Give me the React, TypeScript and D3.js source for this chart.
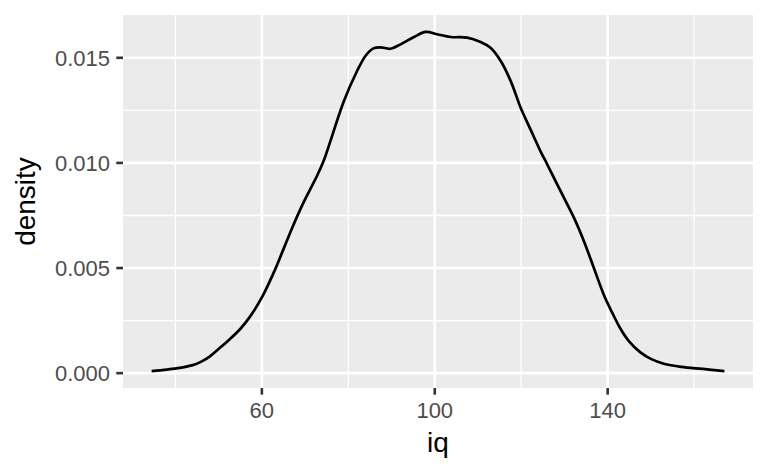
import React from 'react';
import * as d3 from 'd3';

// density estimate of iq
const iq = [34.5, 38, 41, 44, 46, 48, 50, 52.5, 55, 57.3, 60, 63, 65, 67.3, 69.6, 72.8, 74.3, 75.8, 78.9, 82, 84, 85.8, 87.5, 89.7, 92.1, 95.2, 97.9, 100.6, 103.7, 107.5, 110.6, 112.9, 115.3, 117.6, 119.9, 122.2, 124.5, 126.1, 129.2, 132.3, 134.6, 136.9, 139.2, 141, 143, 145, 147.5, 150, 153, 157, 162, 167];
const density = [0.0001, 0.00017, 0.00025, 0.00038, 0.00055, 0.0008, 0.00115, 0.0016, 0.0021, 0.0027, 0.0036, 0.0049, 0.0059, 0.00705, 0.0081, 0.0094, 0.0101, 0.011, 0.0129, 0.01436, 0.0151, 0.01545, 0.0155, 0.01543, 0.01564, 0.01599, 0.01623, 0.01612, 0.01599, 0.01596, 0.01575, 0.01548, 0.01484, 0.01388, 0.01261, 0.01157, 0.01054, 0.0099, 0.00862, 0.00735, 0.00623, 0.00495, 0.00368, 0.0029, 0.0021, 0.0015, 0.001, 0.00068, 0.00045, 0.0003, 0.0002, 0.0001];

const xTicks = [60, 100, 140];
const xMinor = [40, 80, 120, 160];
const yTicks = [0, 0.005, 0.01, 0.015];
const yMinor = [0.0025, 0.0075, 0.0125];

const W = 768;
const H = 474;
const margin = { top: 15, right: 15, bottom: 86, left: 123 };

export default function App() {
  const pw = W - margin.left - margin.right;
  const ph = H - margin.top - margin.bottom;

  const [x0, x1] = d3.extent(iq) as [number, number];
  const xPad = (x1 - x0) * 0.05;
  const x = d3.scaleLinear().domain([x0 - xPad, x1 + xPad]).range([0, pw]);

  const [y0, y1] = d3.extent(density) as [number, number];
  const yPad = (y1 - y0) * 0.05;
  const y = d3.scaleLinear().domain([y0 - yPad, y1 + yPad]).range([ph, 0]);

  const pts = iq.map((v, i) => [v, density[i]] as [number, number]);
  const line = d3.line<[number, number]>()
    .x(d => x(d[0]))
    .y(d => y(d[1]))
    .curve(d3.curveCatmullRom.alpha(0.5));

  const font = "'Liberation Sans', Arial, sans-serif";

  return (
    <svg width={W} height={H} style={{ position: 'absolute', left: 0, top: 0 }} fontFamily={font}>
      <rect width={W} height={H} fill="#fff" />
      <g transform={`translate(${margin.left},${margin.top})`}>
        <rect width={pw} height={ph} fill="#EBEBEB" />
        {xMinor.map(v => (
          <line key={'xm' + v} x1={x(v)} x2={x(v)} y1={0} y2={ph} stroke="#fff" strokeWidth={1.3} />
        ))}
        {yMinor.map(v => (
          <line key={'ym' + v} x1={0} x2={pw} y1={y(v)} y2={y(v)} stroke="#fff" strokeWidth={1.3} />
        ))}
        {xTicks.map(v => (
          <line key={'xM' + v} x1={x(v)} x2={x(v)} y1={0} y2={ph} stroke="#fff" strokeWidth={2.6} />
        ))}
        {yTicks.map(v => (
          <line key={'yM' + v} x1={0} x2={pw} y1={y(v)} y2={y(v)} stroke="#fff" strokeWidth={2.6} />
        ))}
        <path d={line(pts) ?? ''} fill="none" stroke="#000" strokeWidth={2.7} />

        {xTicks.map(v => (
          <g key={'xt' + v} transform={`translate(${x(v)},${ph})`}>
            <line y1={0} y2={6.7} stroke="#333" strokeWidth={2.6} />
            <text y={30} textAnchor="middle" fontSize={22} fill="#4D4D4D">{v}</text>
          </g>
        ))}
        {yTicks.map(v => (
          <g key={'yt' + v} transform={`translate(0,${y(v)})`}>
            <line x1={-6.7} x2={0} stroke="#333" strokeWidth={2.6} />
            <text x={-13} dy="0.36em" textAnchor="end" fontSize={22} fill="#4D4D4D">{d3.format('.3f')(v)}</text>
          </g>
        ))}
      </g>
      <text x={margin.left + pw / 2} y={452} textAnchor="middle" fontSize={28} fill="#000">iq</text>
      <text transform={`translate(35,${margin.top + ph / 2}) rotate(-90)`} textAnchor="middle" fontSize={28} fill="#000">density</text>
    </svg>
  );
}
